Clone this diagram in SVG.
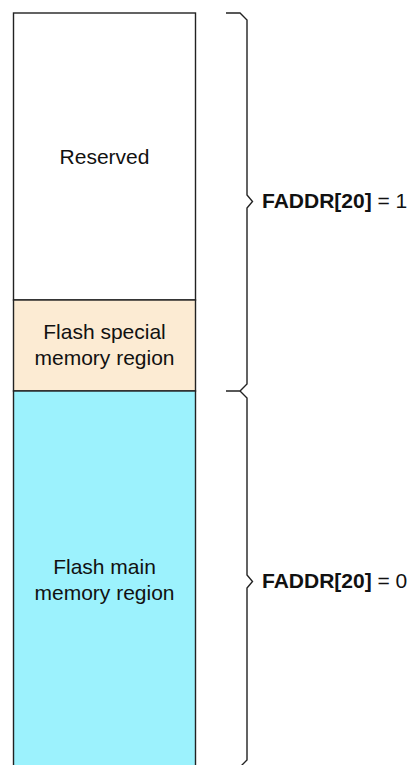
<svg xmlns="http://www.w3.org/2000/svg" width="409" height="765" viewBox="0 0 409 765">
  <style>
    .region { stroke: #222; stroke-width: 1.4; }
    .label { font-family: "Liberation Sans", Arial, sans-serif; font-size: 21px; fill: #111; text-anchor: middle; }
    .field { font-family: "Liberation Sans", Arial, sans-serif; font-size: 21px; fill: #111; }
    .brace { fill: none; stroke: #222; stroke-width: 1.4; stroke-linejoin: miter; }
  </style>
  <rect width="409" height="765" fill="#ffffff"/>

  <!-- memory map column -->
  <g id="reserved">
    <rect class="region" x="13.5" y="13" width="182" height="287" fill="#ffffff"/>
    <text class="label" x="104.5" y="164">Reserved</text>
  </g>
  <g id="flash-special">
    <rect class="region" x="13.5" y="300" width="182" height="91" fill="#FCEBD3"/>
    <text class="label" x="104.5" y="339">Flash special</text>
    <text class="label" x="104.5" y="365">memory region</text>
  </g>
  <g id="flash-main">
    <rect class="region" x="13.5" y="391" width="182" height="390" fill="#9CF2FD"/>
    <text class="label" x="104.5" y="574">Flash main</text>
    <text class="label" x="104.5" y="600">memory region</text>
  </g>

  <!-- braces grouping address ranges -->
  <g id="connectors">
    <path class="brace" d="M226,13 H240 L247,20 V195 L252.5,201.5 L247,208 V384 L240,391 H226"/>
    <path class="brace" d="M240,391 L247,398 V575 L252.5,581.5 L247,588 V760 L240,767"/>
  </g>

  <g id="faddr-1">
    <text class="field" x="262" y="208"><tspan font-weight="bold">FADDR[20]</tspan> = 1</text>
  </g>
  <g id="faddr-0">
    <text class="field" x="262" y="588"><tspan font-weight="bold">FADDR[20]</tspan> = 0</text>
  </g>
</svg>
